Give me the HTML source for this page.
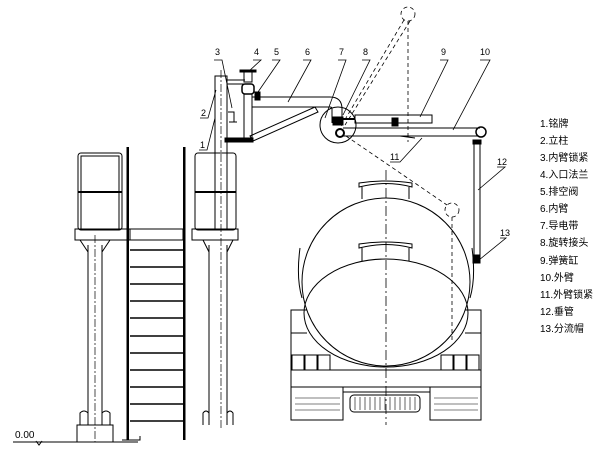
<!DOCTYPE html>
<html><head><meta charset="utf-8"><style>
html,body{margin:0;padding:0;background:#fff;}
svg{display:block}
text{font-family:"Liberation Sans","Noto Sans CJK SC",sans-serif;fill:#000}
</style></head><body>
<svg width="609" height="449" viewBox="0 0 609 449" xmlns="http://www.w3.org/2000/svg">
<g fill="none" stroke="#000" stroke-width="1">
<!-- ground -->
<line x1="13" y1="442" x2="138" y2="442"/>
<path d="M36 441 l3 4 l3 -4"/>
<!-- left platform -->
<rect x="78" y="153" width="44" height="77" rx="3"/>
<rect x="81" y="156" width="38" height="74"/>
<line x1="78" y1="192" x2="122" y2="192" stroke-width="2"/>
<rect x="75" y="229" width="55" height="11"/>
<path d="M80 240 L88 252 M110 240 L102 252"/>
<line x1="88" y1="245" x2="88" y2="425"/><line x1="102" y1="245" x2="102" y2="425"/>
<line x1="95" y1="235" x2="95" y2="442" stroke-dasharray="8,2,2,2" stroke-width=".7"/>
<path d="M80 425 v-12 q4 -4 8 0 M102 413 q4 -4 8 0 v12"/>
<rect x="77" y="425" width="36" height="17"/>
<!-- ladder -->
<rect x="126.5" y="147" width="2.5" height="293" fill="#000" stroke="none"/>
<rect x="183" y="147" width="2.5" height="293" fill="#000" stroke="none"/>
<rect x="130" y="229" width="53" height="11"/>
<g stroke-width="1.5">
<line x1="130" y1="250" x2="183" y2="250"/><line x1="130" y1="267" x2="183" y2="267"/>
<line x1="130" y1="284" x2="183" y2="284"/><line x1="130" y1="301" x2="183" y2="301"/>
<line x1="130" y1="318" x2="183" y2="318"/><line x1="130" y1="336" x2="183" y2="336"/>
<line x1="130" y1="353" x2="183" y2="353"/><line x1="130" y1="370" x2="183" y2="370"/>
<line x1="130" y1="387" x2="183" y2="387"/><line x1="130" y1="404" x2="183" y2="404"/>
<line x1="130" y1="421" x2="183" y2="421"/>
</g>
<path d="M122 440 h18 v-4"/>
<!-- right platform -->
<rect x="195" y="153" width="41" height="77" rx="3"/>
<line x1="195" y1="192" x2="236" y2="192" stroke-width="2"/>
<rect x="192" y="229" width="46" height="11"/>
<path d="M203 240 L209 252 M233 240 L227 252"/>
<line x1="209" y1="245" x2="209" y2="425"/><line x1="227" y1="245" x2="227" y2="425"/>
<path d="M203 425 v-12 q3 -4 6 0 M227 413 q3 -4 6 0 v12"/>
<!-- post -->
<rect x="215" y="76" width="12" height="154"/>
<line x1="221" y1="70" x2="221" y2="430" stroke-dasharray="8,2,2,2" stroke-width=".7"/>
<path d="M227 80 h18 M227 84 h18" />
<rect x="240" y="70" width="16" height="2" fill="#000"/>
<rect x="244" y="72" width="8" height="10"/>
<rect x="242" y="84" width="12" height="10" rx="3" stroke-width="1.5"/>
<rect x="244" y="94" width="8" height="46"/>
<rect x="225" y="138" width="28" height="4" fill="#000"/>
<path d="M228 112 h6 v10 M229 122 h8"/>
<!-- inner arm -->
<path d="M252 97 h78 q12 0 12 12 v14 M252 107 h78 q2 0 2 2 v14"/>
<rect x="255" y="92" width="5" height="8" fill="#000"/>
<path d="M250 136 L315 107 L318 112 L253 141 Z"/>
<!-- swivel -->
<circle cx="338" cy="125" r="18"/>
<rect x="333" y="117" width="10" height="8" fill="#000"/>
<circle cx="340" cy="133" r="4" stroke-width="2"/>
<!-- spring cylinder -->
<rect x="355" y="115" width="77" height="8"/>
<rect x="392" y="118" width="6" height="8" fill="#000"/>
<line x1="343" y1="119" x2="355" y2="119" stroke-width="2"/>
<!-- outer arm -->
<path d="M343 128 h137 M343 136 h135"/>
<circle cx="481" cy="132" r="5" stroke-width="1.5"/>
<path d="M400 136 l15 2" />
<rect x="473" y="140" width="8" height="4" fill="#000"/>
<rect x="474" y="144" width="6" height="112"/>
<rect x="473" y="255" width="7" height="8" fill="#000"/>
<!-- dashed construction -->
<g stroke-dasharray="4,3" stroke-width=".8">
<circle cx="408" cy="14" r="7"/>
<circle cx="452" cy="210" r="7"/>
<line x1="408" y1="21" x2="408" y2="142"/>
<line x1="404" y1="20" x2="340" y2="128"/>
<line x1="410" y1="21" x2="345" y2="125"/>
<line x1="346" y1="136" x2="447" y2="205"/>
<line x1="452" y1="217" x2="452" y2="340"/>
</g>
<!-- tank -->
<circle cx="386" cy="282" r="84"/>
<ellipse cx="386" cy="313" rx="82" ry="54"/>
<path d="M359 187 q27 -7 53 0 v-4 q-27 -4 -53 0z M362 187 v12 M409 187 v12"/>
<path d="M359 248 q27 -7 53 0 v-4 q-27 -4 -53 0z M362 248 v13 M409 248 v13"/>
<line x1="386" y1="170" x2="386" y2="425" stroke-dasharray="10,3,2,3" stroke-width=".8"/>
<path d="M300 248 q-4 30 2 50 M472 248 q4 30 -2 50"/>
<!-- truck -->
<path d="M307 310 h-16 v60 M465 310 h16 v60"/>
<path d="M291 333 h16 M465 333 h16"/>
<rect x="292" y="355" width="12" height="15"/><rect x="305" y="355" width="12" height="15"/><rect x="318" y="355" width="12" height="15"/>
<rect x="441" y="355" width="12" height="15"/><rect x="454" y="355" width="12" height="15"/><rect x="467" y="355" width="12" height="15"/>
<rect x="291" y="370" width="190" height="17"/>
<path d="M291 387 v33 h52 v-33 M430 387 v33 h51 v-33 M343 392 h87"/>
<rect x="350" y="395" width="70" height="17" rx="4"/>
<g stroke-width=".6">
<path d="M295 398 h45 M295 404 h45 M295 410 h45 M434 398 h44 M434 404 h44 M434 410 h44"/>
<path d="M355 397 v13 M360 397 v13 M365 397 v13 M370 397 v13 M375 397 v13 M380 397 v13 M385 397 v13 M390 397 v13 M395 397 v13 M400 397 v13 M405 397 v13 M410 397 v13 M415 397 v13"/>
</g>
<!-- leaders -->
<g stroke-width=".8">
<path d="M214 60 h8 L232 108"/>
<path d="M253 60 h8 L248 72"/>
<path d="M272 60 h8 L258 92"/>
<path d="M303 60 h8 L288 102"/>
<path d="M338 60 h8 L325 118"/>
<path d="M362 60 h8 L343 115"/>
<path d="M440 60 h8 L420 117"/>
<path d="M480 60 h10 L453 130"/>
<path d="M200 118 h8 L216 90"/>
<path d="M199 150 h8 L215 118"/>
<path d="M390 162 h10 L422 138"/>
<path d="M497 167 h8 L478 190"/>
<path d="M500 238 h6 L479 260"/>
</g>
</g>
<g font-size="9">
<text x="15" y="438" font-size="10">0.00</text>
<text x="215" y="55">3</text><text x="254" y="55">4</text><text x="274" y="55">5</text>
<text x="305" y="55">6</text><text x="339" y="55">7</text><text x="363" y="55">8</text>
<text x="441" y="55">9</text><text x="480" y="55">10</text>
<text x="201" y="116">2</text><text x="200" y="148">1</text>
<text x="390" y="160">11</text><text x="497" y="165">12</text><text x="500" y="236">13</text>
</g>
<g font-size="10">
<text x="540" y="127">1.铭牌</text>
<text x="540" y="144">2.立柱</text>
<text x="540" y="161">3.内臂锁紧</text>
<text x="540" y="178">4.入口法兰</text>
<text x="540" y="195">5.排空阀</text>
<text x="540" y="212">6.内臂</text>
<text x="540" y="229">7.导电带</text>
<text x="540" y="246">8.旋转接头</text>
<text x="540" y="264">9.弹簧缸</text>
<text x="540" y="281">10.外臂</text>
<text x="540" y="298">11.外臂锁紧</text>
<text x="540" y="315">12.垂管</text>
<text x="540" y="332">13.分流帽</text>
</g>
</svg>
</body></html>
